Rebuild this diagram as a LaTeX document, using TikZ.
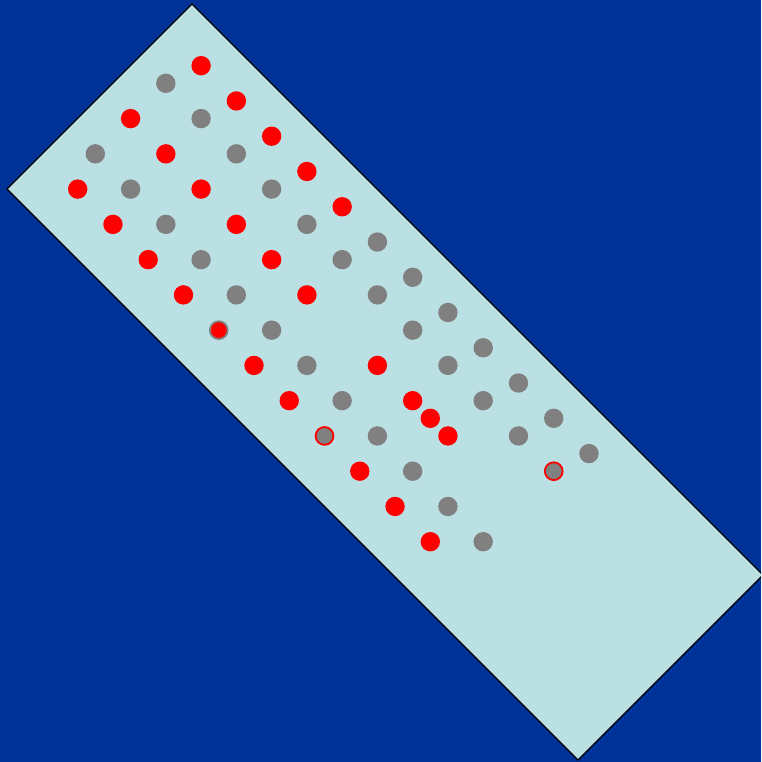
\documentclass[tikz,border=0pt]{standalone}
\usepackage{tikz}
\definecolor{slideblue}{HTML}{003399}
\definecolor{panelblue}{HTML}{BBE0E3}
\definecolor{dotgray}{HTML}{808080}

\begin{document}
\begin{tikzpicture}[x=1pt,y=-1pt,
  panel/.style={fill=panelblue,draw=black,line width=1.2pt},
  rdot/.style={fill=red},
  gdot/.style={fill=dotgray},
  redring/.style={fill=dotgray,draw=red,line width=1.8pt},
  grayring/.style={fill=red,draw=dotgray,line width=1.8pt}]
  \fill[slideblue] (0,0) rectangle (761,762);
  \clip (0,0) rectangle (761,762);
  \draw[panel] (192,4) -- (763,575) -- (578,760) -- (7,189) -- cycle;
  \begin{scope}[shift={(77.7,65.7)},x=17.63pt,y=-17.63pt]
    \foreach \k in {0,...,10} \fill[gdot] (5+2*\k,1+2*\k) circle (9.7pt);
    \foreach \k in {0,...,11} \fill[gdot] (1+2*\k,5+2*\k) circle (9.7pt);
    \foreach \k in {0,...,6} \fill[gdot] (17+2*\k,10+2*\k) circle (9.7pt);
    \foreach \k in {0,...,4} \fill[rdot] (7+2*\k,2*\k) circle (9.7pt);
    \foreach \k in {0,...,5} \fill[rdot] (3+2*\k,3+2*\k) circle (9.7pt);
    \foreach \k in {0,1,2,3,5,6,8,9,10} \fill[rdot] (2*\k,7+2*\k) circle (9.7pt);
    \foreach \i/\j in {17/17,19/19,20/20,21/21} \fill[rdot] (\i,\j) circle (9.7pt);
    \filldraw[grayring] (8,15) circle (8.9pt);
    \filldraw[redring] (14,21) circle (8.9pt);
    \filldraw[redring] (27,23) circle (8.9pt);
  \end{scope}
\end{tikzpicture}
\end{document}
